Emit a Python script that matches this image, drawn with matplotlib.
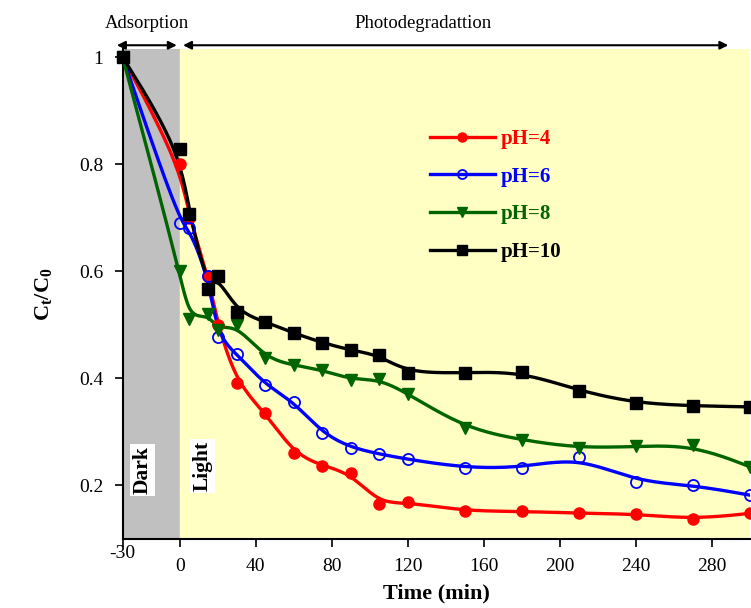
import numpy as np
import matplotlib
matplotlib.use('Agg')
import matplotlib.pyplot as plt

plt.rcParams['font.family'] = ['Liberation Serif', 'DejaVu Serif']
plt.rcParams['mathtext.fontset'] = 'custom'
plt.rcParams['mathtext.rm'] = 'Liberation Serif'
plt.rcParams['mathtext.it'] = 'Liberation Serif:italic'
plt.rcParams['mathtext.bf'] = 'Liberation Serif:bold'

# time points (min), dark adsorption starts at -30
time = [-30, 0, 5, 15, 20, 30, 45, 60, 75, 90, 105, 120, 150, 180, 210, 240, 270, 300]

ph4 = [1.0, 0.80, 0.70, 0.59, 0.50, 0.39, 0.335, 0.259, 0.236, 0.222, 0.165, 0.168,
       0.151, 0.151, 0.147, 0.146, 0.136, 0.147]
ph6 = [1.0, 0.689, 0.68, 0.59, 0.477, 0.445, 0.387, 0.356, 0.297, 0.27, 0.258, 0.248,
       0.232, 0.232, 0.253, 0.206, 0.20, 0.181]
ph8 = [1.0, 0.60, 0.51, 0.52, 0.49, 0.50, 0.437, 0.424, 0.415, 0.397, 0.398, 0.371,
       0.306, 0.284, 0.269, 0.272, 0.275, 0.234]
ph10 = [1.0, 0.828, 0.707, 0.566, 0.591, 0.524, 0.505, 0.484, 0.466, 0.452, 0.443, 0.409,
        0.41, 0.412, 0.376, 0.353, 0.348, 0.346]

labels = ['pH=4', 'pH=6', 'pH=8', 'pH=10']
colors = ['#ff0000', '#0000ff', '#006400', '#000000']


def bspline(x, y, n=25):
    # clamped uniform cubic B-spline using the data as control points
    px = np.r_[x[0], x[0], x, x[-1], x[-1]].astype(float)
    py = np.r_[y[0], y[0], y, y[-1], y[-1]].astype(float)
    t = np.linspace(0, 1, n)
    b0 = (1 - t) ** 3 / 6
    b1 = (3 * t ** 3 - 6 * t ** 2 + 4) / 6
    b2 = (-3 * t ** 3 + 3 * t ** 2 + 3 * t + 1) / 6
    b3 = t ** 3 / 6
    xs, ys = [], []
    for i in range(len(px) - 3):
        xs.append(b0 * px[i] + b1 * px[i + 1] + b2 * px[i + 2] + b3 * px[i + 3])
        ys.append(b0 * py[i] + b1 * py[i + 1] + b2 * py[i + 2] + b3 * py[i + 3])
    return np.concatenate(xs), np.concatenate(ys)


fig = plt.figure(figsize=(7.51, 6.08), dpi=100)
ax = fig.add_axes([122.6 / 751, (608 - 538.5) / 608, 627.4 / 751, 489.5 / 608])
ax.set_xlim(-30, 300)
ax.set_ylim(0.1, 1.015)

ax.axvspan(-30, 0, color='#c0c0c0', zorder=0)
ax.axvspan(0, 300, color='#ffffc4', zorder=0)

styles = [
    dict(marker='o', ms=8, mfc='#ff0000', mec='#ff0000'),
    dict(marker='o', ms=8, mfc='none', mec='#0000ff', mew=1.3),
    dict(marker='v', ms=9, mfc='#006400', mec='#006400'),
    dict(marker='s', ms=9, mfc='#000000', mec='#000000'),
]
handles = []
for ys, lab, c, st in zip([ph4, ph6, ph8, ph10], labels, colors, styles):
    sx, sy = bspline(time, ys)
    ax.plot(sx, sy, '-', color=c, lw=2.4, zorder=3)
    ax.plot(time, ys, ls='none', zorder=4, clip_on=False, **st)
    leg_st = dict(st)
    leg_st['ms'] = st['ms'] - 1.5
    h, = ax.plot([], [], '-', color=c, lw=2.4, **leg_st)
    handles.append(h)

leg = ax.legend(handles, labels, loc='upper left', bbox_to_anchor=(0.46, 0.875),
                frameon=False, handlelength=3.1, labelspacing=0.85, handletextpad=0.3,
                prop={'weight': 'bold', 'size': 15})
for txt, c in zip(leg.get_texts(), colors):
    txt.set_color(c)

ax.set_xticks([-30, 0, 40, 80, 120, 160, 200, 240, 280])
ax.set_xticklabels(['', '0', '40', '80', '120', '160', '200', '240', '280'])
ax.text(-30, 0.088, '-30', ha='center', va='top', fontsize=14)
ax.set_yticks([0.2, 0.4, 0.6, 0.8, 1.0])
ax.set_yticklabels(['0.2', '0.4', '0.6', '0.8', '1'])
ax.tick_params(direction='out', length=6, width=1.2, labelsize=14, pad=8)
ax.spines['top'].set_visible(False)
ax.spines['right'].set_visible(False)
ax.spines['left'].set_linewidth(1.5)
ax.spines['bottom'].set_linewidth(1.5)

ax.set_xlabel('Time (min)', fontsize=16, fontweight='bold', labelpad=6)
ax.set_ylabel(r'$\mathbf{C_t/C_0}$', fontsize=16, labelpad=18)

box = dict(facecolor='white', edgecolor='none', pad=1.5)
ax.text(-19.5, 0.228, 'Dark', rotation=90, ha='center', va='center', fontsize=15.5,
        fontweight='bold', bbox=box, zorder=5)
ax.text(12, 0.235, 'Light', rotation=90, ha='center', va='center', fontsize=15.5,
        fontweight='bold', bbox=box, zorder=5)

arrow = dict(arrowstyle='<|-|>', color='black', lw=1.5, mutation_scale=12,
             shrinkA=0, shrinkB=0)
ax.annotate('', xy=(-33, 1.022), xytext=(-1.5, 1.022), arrowprops=arrow,
            annotation_clip=False)
ax.annotate('', xy=(1.8, 1.022), xytext=(288.6, 1.022), arrowprops=arrow,
            annotation_clip=False)
ax.text(-17, 1.063, 'Adsorption', ha='center', va='center', fontsize=13.5)
ax.text(128, 1.063, 'Photodegradattion', ha='center', va='center', fontsize=13.5)

fig.savefig('out.png', dpi=100)
